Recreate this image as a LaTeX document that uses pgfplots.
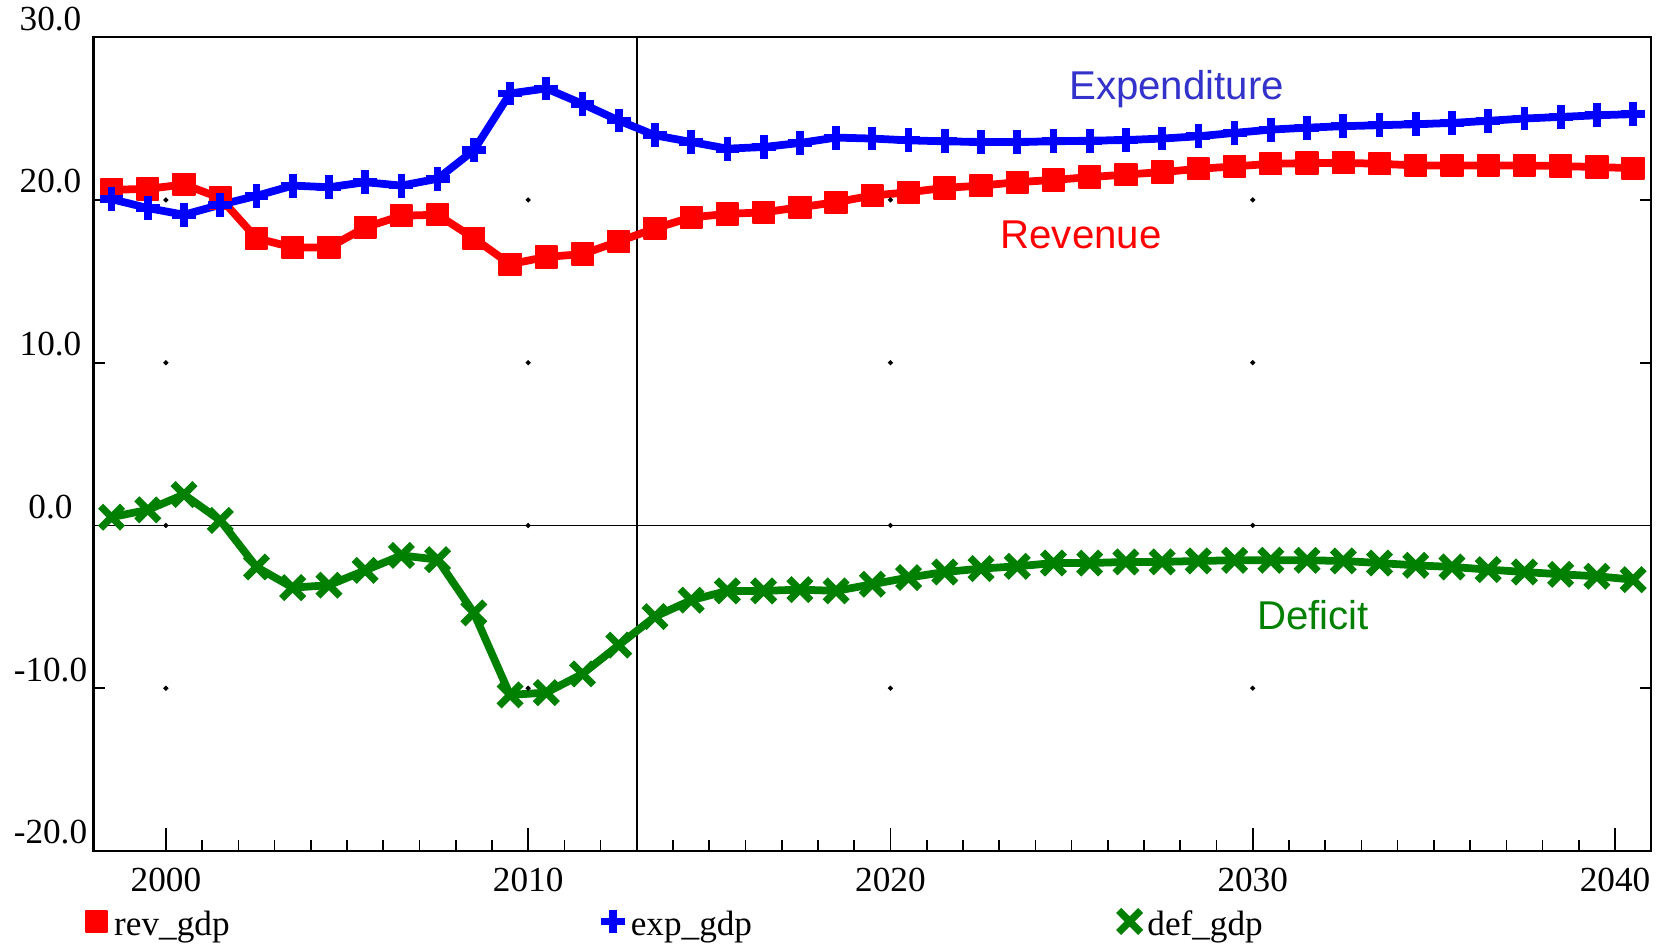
\documentclass[border=0pt]{standalone}
\usepackage{fontspec}
\setmainfont{Liberation Serif}
\newfontfamily\labelfont{Liberation Sans}
\usepackage{pgfplots}
\pgfplotsset{compat=1.18}
\usepackage{pgfplotstable}

\definecolor{revred}{RGB}{255,0,0}
\definecolor{expblue}{RGB}{0,0,255}
\definecolor{defgreen}{RGB}{0,128,0}
\definecolor{explabel}{RGB}{51,51,204}

\pgfplotstableread{
year rev exp def
1998 20.62 20.05 0.51
1999 20.68 19.50 0.96
2000 20.95 19.09 1.90
2001 20.12 19.70 0.31
2002 17.65 20.25 -2.55
2003 17.08 20.88 -3.82
2004 17.08 20.78 -3.67
2005 18.31 21.09 -2.76
2006 19.03 20.88 -1.84
2007 19.09 21.30 -2.10
2008 17.65 23.05 -5.37
2009 16.05 26.54 -10.41
2010 16.50 26.85 -10.27
2011 16.67 25.90 -9.12
2012 17.45 24.88 -7.35
2013 18.25 23.97 -5.60
2014 18.93 23.56 -4.59
2015 19.14 23.15 -4.02
2016 19.24 23.25 -4.02
2017 19.55 23.50 -3.94
2018 19.86 23.83 -4.02
2019 20.27 23.77 -3.61
2020 20.47 23.66 -3.20
2021 20.74 23.60 -2.86
2022 20.88 23.56 -2.65
2023 21.09 23.56 -2.51
2024 21.23 23.60 -2.31
2025 21.40 23.64 -2.31
2026 21.56 23.68 -2.24
2027 21.71 23.77 -2.24
2028 21.91 23.91 -2.18
2029 22.06 24.12 -2.14
2030 22.22 24.32 -2.14
2031 22.26 24.44 -2.14
2032 22.28 24.53 -2.18
2033 22.22 24.59 -2.31
2034 22.12 24.65 -2.45
2035 22.12 24.73 -2.55
2036 22.12 24.86 -2.71
2037 22.12 25.00 -2.86
2038 22.08 25.10 -3.00
2039 22.02 25.20 -3.12
2040 21.95 25.27 -3.33
}\datatable

\begin{document}
\begin{tikzpicture}
\path[use as bounding box] (-33.7pt,-33.3pt) rectangle (566.4pt,306.9pt);
\begin{axis}[
  at={(0pt,0pt)}, anchor=south west,
  scale only axis, width=561.8pt, height=293.5pt,
  xmin=1998, xmax=2041, ymin=-20, ymax=30,
  xtick={2000,2010,2020,2030,2040},
  xticklabels={2000,2010,2020,2030,2040},
  minor x tick num=9,
  xtick pos=bottom,
  ytick={-20,-10,0,10,20,30},
  yticklabels={-20.0,-10.0,0.0,10.0,20.0,30.0},
  minor ytick={-10,0,10,20},
  major y tick style={draw=none},
  tick align=inside,
  major tick length=8.2pt,
  minor tick length=4pt,
  tick style={black, line width=0.6pt},
  axis line style={line width=0.8pt},
  xticklabel style={font=\fontsize{12.7}{14}\selectfont, anchor=north, yshift=-6pt, inner sep=0pt},
  yticklabel style={font=\fontsize{12.7}{14}\selectfont, anchor=south, xshift=-15.5pt, yshift=2.2pt, inner sep=0pt},
  legend columns=3,
  legend style={draw=none, fill=none, at={(0,0)}, anchor=north west, xshift=-5pt, yshift=-20pt,
    inner sep=0pt, font=\fontsize{12.7}{14}\selectfont, nodes={inner sep=1.5pt}},
  legend image code/.code={\path (-4.5pt,0pt) (3.5pt,0pt); \draw[#1, only marks] plot coordinates {(0pt,1.5pt)};},
]
\addplot[forget plot, only marks, mark=*, mark size=0.7pt, black] coordinates {
(2000,20)(2010,20)(2020,20)(2030,20)
(2000,10)(2010,10)(2020,10)(2030,10)
(2000,0)(2010,0)(2020,0)(2030,0)
(2000,-10)(2010,-10)(2020,-10)(2030,-10)};
\addplot[forget plot, black, line width=0.5pt] coordinates {(1998,0)(2041,0)};
\addplot[forget plot, black, line width=0.5pt] coordinates {(2013,-20)(2013,30)};

\addplot[revred, line width=2.8pt, line join=round, mark=square*, mark size=3.9pt,
  mark options={fill=revred, draw=revred, line width=0.6pt}]
  table[x expr=\thisrow{year}+0.5, y=rev] {\datatable};
\addlegendentry{\makebox[172.5pt][l]{rev\_gdp}}
\addplot[expblue, line width=2.8pt, line join=round, mark=+, mark size=4.3pt,
  mark options={line width=2.8pt}]
  table[x expr=\thisrow{year}+0.5, y=exp] {\datatable};
\addlegendentry{\makebox[172.5pt][l]{exp\_gdp}}
\addplot[defgreen, line width=2.8pt, line join=round, mark=x, mark size=5.6pt,
  mark options={line width=2.6pt}]
  table[x expr=\thisrow{year}+0.5, y=def] {\datatable};
\addlegendentry{\makebox[172.5pt][l]{def\_gdp}}

\node[anchor=base, text=explabel, font=\labelfont\fontsize{14.5}{16}\selectfont] at (axis cs:2027.9,26.14) {Expenditure};
\node[anchor=base, text=revred, font=\labelfont\fontsize{14.5}{16}\selectfont] at (axis cs:2025.26,17.03) {Revenue};
\node[anchor=base, text=defgreen, font=\labelfont\fontsize{14.5}{16}\selectfont] at (axis cs:2031.67,-6.42) {Deficit};
\end{axis}
\end{tikzpicture}
\end{document}
